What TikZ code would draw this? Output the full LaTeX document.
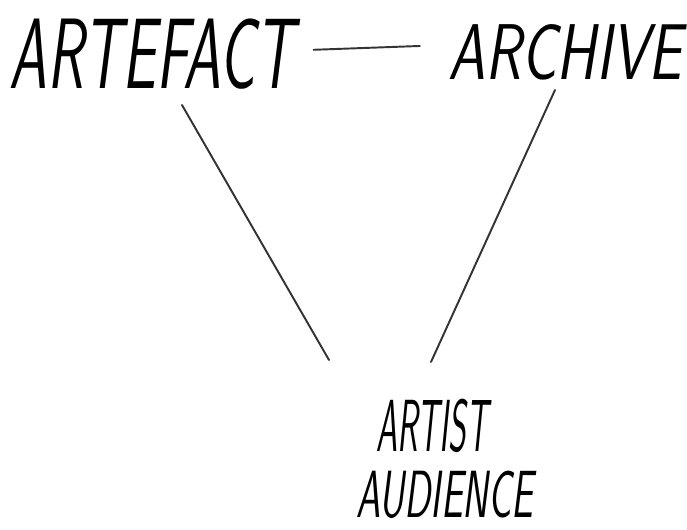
\documentclass[tikz,border=0pt]{standalone}
\usepackage{tikz}
\usetikzlibrary{positioning}

\begin{document}
\begin{tikzpicture} [
        x=0.02cm, y=-0.02cm,
        word/.style 2 args={font=\fontsize{#1}{#1}\selectfont\sffamily\slshape,
            inner sep=0pt, text=black, transform shape, xscale=#2},
        pen/.style={line width=1.1pt, black!80, line cap=round}
    ]
    \useasboundingbox (0,0) rectangle (687,530);

    % the four words
    \node[word={57}{0.60}]  (artefact)   at (152,54)    {ARTEFACT};
    \node[word={45}{0.75}]  (archive)    at (565,52)    {ARCHIVE};
    \node[word={42}{0.46}]  (artist)     at (432,426)   {ARTIST};
    \node[word={38}{0.58}]  (audience)   at (445,495)   {AUDIENCE};

    % free ends of the two long strokes
    \coordinate (artefact-foot)  at (182,105);
    \coordinate (archive-foot)   at (555,90);
    \coordinate (artist-left)    at (329,360);
    \coordinate (artist-right)   at (431,362);

    \draw[pen, shorten <=11pt, shorten >=16pt]
        ([yshift=2pt]artefact.east) -- ([yshift=4pt]archive.west);
    \draw[pen] (artefact-foot) -- (artist-left);
    \draw[pen] (archive-foot)  -- (artist-right);
\end{tikzpicture}
\end{document}
